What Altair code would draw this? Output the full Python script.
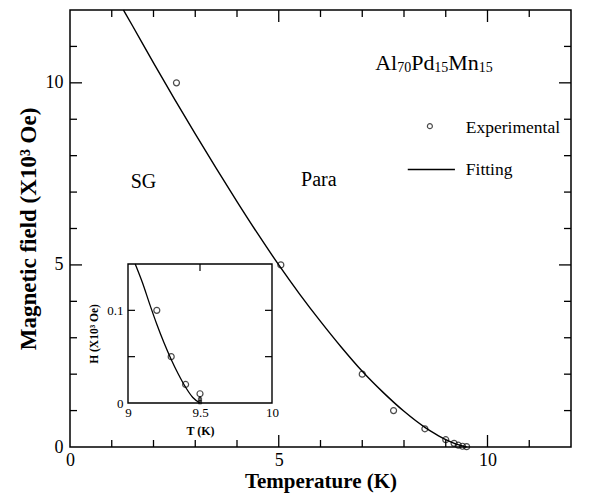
import altair as alt
import pandas as pd

# ---------------- data ----------------
# fitted curve (main panel)
fit_T = [1.28, 1.5, 2.0, 2.5, 3.0, 3.5, 4.0, 4.5, 5.0, 5.5, 6.0, 6.5, 7.0, 7.5, 8.0, 8.5, 8.75, 9.0, 9.25, 9.5]
fit_H = [12.0, 11.56, 10.55, 9.56, 8.6, 7.66, 6.74, 5.85, 5.0, 4.2, 3.45, 2.74, 2.08, 1.5, 0.98, 0.54, 0.36, 0.2, 0.08, 0.0]
# experimental points (main panel)
exp_T = [2.55, 5.05, 7.0, 7.75, 8.5, 9.0, 9.2, 9.3, 9.4, 9.5]
exp_H = [10.0, 5.0, 2.0, 1.0, 0.5, 0.2, 0.1, 0.05, 0.02, 0.01]
# inset curve and points
in_fit_T = [9.05, 9.1, 9.15, 9.2, 9.25, 9.3, 9.35, 9.4, 9.45, 9.5]
in_fit_H = [0.15, 0.13, 0.107, 0.085, 0.065, 0.047, 0.031, 0.017, 0.006, 0.0]
in_exp_T = [9.2, 9.3, 9.4, 9.5]
in_exp_H = [0.1, 0.05, 0.02, 0.01]
in_sq_T = [9.5, 9.5]
in_sq_H = [0.004, 0.0008]
# ticks and labels
main_labels = [0, 5, 10]
major_ticks = [5, 10]
minor_ticks = [1, 2, 3, 4, 6, 7, 8, 9, 11]
in_x_labels = [9, 9.5, 10]
in_y_labels = [0, 0.1]
in_x_ticks = [9.5]
in_y_ticks = [0.05, 0.1]

FONT = "Liberation Serif"
W, H = 501, 437

XS = alt.Scale(domain=[0, 12], nice=False, zero=False)
YS = alt.Scale(domain=[0, 12], nice=False, zero=False)

x_axis = alt.Axis(values=main_labels, title="Temperature  (K)", ticks=False, domain=False, grid=False,
                  labelFont=FONT, labelFontSize=18, labelPadding=4, labelColor="black", labelFlush=False,
                  titleFont=FONT, titleFontSize=21, titleFontWeight="bold", titleColor="black",
                  titleY=40, titleBaseline="alphabetic")
y_axis = alt.Axis(values=main_labels, title="Magnetic  field  (X10³ Oe)", ticks=False, domain=False, grid=False,
                  labelFont=FONT, labelFontSize=18, labelPadding=7, labelColor="black", labelFlush=False,
                  titleFont=FONT, titleFontSize=23, titleFontWeight="bold", titleColor="black",
                  titleX=-35, titleBaseline="alphabetic")


def X():
    return alt.X("T:Q", scale=XS, axis=x_axis)


def Y():
    return alt.Y("H:Q", scale=YS, axis=y_axis)


main_layers = []

fit_df = pd.DataFrame({"T": fit_T, "H": fit_H})
main_layers.append(alt.Chart(fit_df).mark_line(color="black", strokeWidth=1.4, interpolate="monotone")
                   .encode(x=X(), y=Y()))

exp_df = pd.DataFrame({"T": exp_T, "H": exp_H})
main_layers.append(alt.Chart(exp_df).mark_point(shape="circle", filled=False, color="black", size=36, strokeWidth=1.2)
                   .encode(x=X(), y=Y()))

# inward ticks on all four sides
for vals, ln in ((major_ticks, 12), (minor_ticks, 7)):
    dfx = pd.DataFrame({"T": vals})
    dfy = pd.DataFrame({"H": vals})
    main_layers.append(alt.Chart(dfx).mark_rule(color="black", strokeWidth=1.3)
                       .encode(x=X(), y=alt.value(H), y2=alt.value(H - ln)))
    main_layers.append(alt.Chart(dfx).mark_rule(color="black", strokeWidth=1.3)
                       .encode(x=X(), y=alt.value(0), y2=alt.value(ln)))
    main_layers.append(alt.Chart(dfy).mark_rule(color="black", strokeWidth=1.3)
                       .encode(y=Y(), x=alt.value(0), x2=alt.value(ln)))
    main_layers.append(alt.Chart(dfy).mark_rule(color="black", strokeWidth=1.3)
                       .encode(y=Y(), x=alt.value(W), x2=alt.value(W - ln)))


def txt(T, Hv, s, size, dx=0, dy=0, align="left"):
    d = pd.DataFrame({"T": [T], "H": [Hv], "s": [s]})
    return (alt.Chart(d).mark_text(font=FONT, fontSize=size, dx=dx, dy=dy, align=align,
                                   baseline="alphabetic", color="black")
            .encode(x=X(), y=Y(), text="s:N"))


# compound formula Al70Pd15Mn15
fx, fy = 7.31, 10.36
main_layers += [
    txt(fx, fy, "Al", 22, dx=0),
    txt(fx, fy, "70", 14, dx=22, dy=2),
    txt(fx, fy, "Pd", 22, dx=36),
    txt(fx, fy, "15", 14, dx=59, dy=2),
    txt(fx, fy, "Mn", 22, dx=73),
    txt(fx, fy, "15", 14, dx=103.5, dy=2),
]
main_layers.append(txt(1.76, 7.1, "SG", 20, align="center"))
main_layers.append(txt(5.96, 7.18, "Para", 20, align="center"))

# legend
leg_pt = pd.DataFrame({"T": [8.62], "H": [8.81]})
main_layers.append(alt.Chart(leg_pt).mark_point(shape="circle", filled=False, color="black", size=25, strokeWidth=1.2)
                   .encode(x=X(), y=Y()))
leg_ln = pd.DataFrame({"T": [8.09, 9.22], "H": [7.62, 7.62]})
main_layers.append(alt.Chart(leg_ln).mark_line(color="black", strokeWidth=1.4).encode(x=X(), y=Y()))
main_layers.append(txt(9.48, 8.63, "Experimental", 17.5))
main_layers.append(txt(9.48, 7.47, "Fitting", 17.5))

main = alt.layer(*main_layers)

# ---------------- inset ----------------
XI = alt.Scale(domain=[9, 10], range=[58, 202], nice=False, zero=False)
YI = alt.Scale(domain=[0, 0.15], range=[393, 254], nice=False, zero=False)

xi_axis = alt.Axis(values=in_x_labels, format="~g", orient="bottom", offset=-44, ticks=False, domain=False,
                   grid=False, labelFont=FONT, labelFontSize=13, labelPadding=3, labelColor="black",
                   labelFlush=False, title="T  (K)", titleFont=FONT, titleFontSize=12, titleFontWeight="bold",
                   titleColor="black", titleX=130, titleY=31, titleBaseline="alphabetic")
yi_axis = alt.Axis(values=in_y_labels, format="~g", orient="left", offset=-58, ticks=False, domain=False,
                   grid=False, labelFont=FONT, labelFontSize=13, labelPadding=5, labelColor="black",
                   labelFlush=False, title="H  (X10³ Oe)", titleFont=FONT, titleFontSize=11.5,
                   titleFontWeight="bold", titleColor="black", titleX=-31, titleY=323.5,
                   titleBaseline="alphabetic")


def XIe(field="Ti"):
    return alt.X(f"{field}:Q", scale=XI, axis=xi_axis)


def YIe(field="Hi"):
    return alt.Y(f"{field}:Q", scale=YI, axis=yi_axis)


in_layers = []
box = pd.DataFrame({"Ti": [9], "Ti2": [10], "Hi": [0], "Hi2": [0.15]})
in_layers.append(alt.Chart(box).mark_rect(fill="white", stroke="black", strokeWidth=1.4)
                 .encode(x=XIe(), x2="Ti2:Q", y=YIe(), y2="Hi2:Q"))
in_fit = pd.DataFrame({"Ti": in_fit_T, "Hi": in_fit_H})
in_layers.append(alt.Chart(in_fit).mark_line(color="black", strokeWidth=1.3, interpolate="monotone")
                 .encode(x=XIe(), y=YIe()))
in_exp = pd.DataFrame({"Ti": in_exp_T, "Hi": in_exp_H})
in_layers.append(alt.Chart(in_exp).mark_point(shape="circle", filled=False, color="black", size=36, strokeWidth=1.2)
                 .encode(x=XIe(), y=YIe()))
in_sq = pd.DataFrame({"Ti": in_sq_T, "Hi": in_sq_H})
in_layers.append(alt.Chart(in_sq).mark_point(shape="square", filled=False, color="black", size=10, strokeWidth=1)
                 .encode(x=XIe(), y=YIe()))
ixt = pd.DataFrame({"Ti": in_x_ticks})
iyt = pd.DataFrame({"Hi": in_y_ticks})
in_layers.append(alt.Chart(ixt).mark_rule(color="black", strokeWidth=1.2)
                 .encode(x=XIe(), y=alt.value(393), y2=alt.value(386)))
in_layers.append(alt.Chart(ixt).mark_rule(color="black", strokeWidth=1.2)
                 .encode(x=XIe(), y=alt.value(254), y2=alt.value(261)))
in_layers.append(alt.Chart(iyt).mark_rule(color="black", strokeWidth=1.2)
                 .encode(y=YIe(), x=alt.value(58), x2=alt.value(65)))
in_layers.append(alt.Chart(iyt).mark_rule(color="black", strokeWidth=1.2)
                 .encode(y=YIe(), x=alt.value(202), x2=alt.value(195)))

inset = alt.layer(*in_layers)

chart = (alt.layer(main, inset)
         .resolve_scale(x="independent", y="independent")
         .properties(width=W, height=H, autosize="none",
                     padding={"left": 70, "top": 10, "right": 18, "bottom": 46},
                     background="white")
         .configure_view(stroke="black", strokeWidth=1.5))

chart.save("out.html", embed_options={"renderer": "svg", "actions": False})
